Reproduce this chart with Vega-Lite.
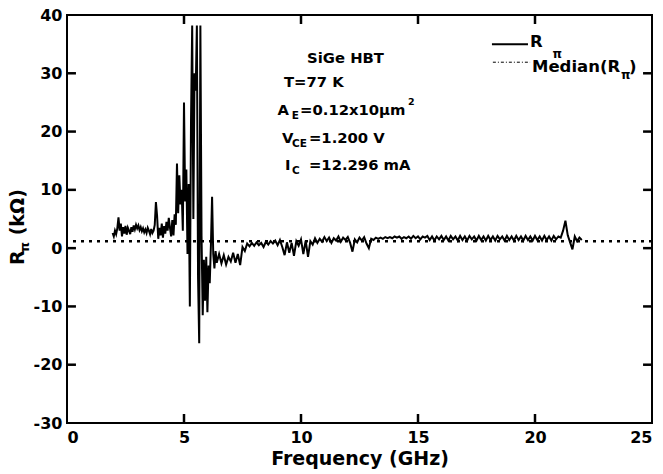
{
  "$schema": "https://vega.github.io/schema/vega-lite/v6.json",
  "width": 585,
  "height": 408,
  "autosize": {"type": "none"},
  "padding": {"left": 67, "top": 15, "right": 11, "bottom": 51},
  "background": "white",
  "config": {
    "view": {"stroke": "black", "strokeWidth": 2},
    "font": "DejaVu Sans",
    "axis": {
      "grid": false, "domain": false, "ticks": false,
      "labelFont": "DejaVu Sans", "labelFontWeight": "bold", "labelFontSize": 16, "labelColor": "black",
      "titleFont": "DejaVu Sans", "titleFontWeight": "bold", "titleFontSize": 19, "titleColor": "black"
    }
  },
  "datasets": {
    "trace": [
      {"f":1.95,"v":2.6},{"f":2.0,"v":2.0},{"f":2.05,"v":3.0},{"f":2.1,"v":2.4},{"f":2.15,"v":3.4},{"f":2.2,"v":5.3},{"f":2.25,"v":3.0},{"f":2.3,"v":4.2},{"f":2.35,"v":2.0},{"f":2.4,"v":3.6},{"f":2.45,"v":2.5},{"f":2.5,"v":3.8},{"f":2.55,"v":2.3},{"f":2.6,"v":3.5},{"f":2.65,"v":3.0},{"f":2.7,"v":2.4},{"f":2.75,"v":3.6},{"f":2.8,"v":2.8},{"f":2.85,"v":3.9},{"f":2.9,"v":3.2},{"f":2.95,"v":4.0},{"f":3.0,"v":3.4},{"f":3.05,"v":3.9},{"f":3.1,"v":3.1},{"f":3.15,"v":3.6},{"f":3.2,"v":2.9},{"f":3.25,"v":3.4},{"f":3.3,"v":2.7},{"f":3.35,"v":3.2},{"f":3.4,"v":2.6},{"f":3.45,"v":3.5},{"f":3.5,"v":3.0},{"f":3.55,"v":2.4},{"f":3.6,"v":3.3},{"f":3.65,"v":2.6},{"f":3.7,"v":3.0},{"f":3.75,"v":4.0},{"f":3.8,"v":7.9},{"f":3.85,"v":5.5},{"f":3.9,"v":1.6},{"f":3.95,"v":3.5},{"f":4.0,"v":2.2},{"f":4.05,"v":4.2},{"f":4.1,"v":1.8},{"f":4.15,"v":3.8},{"f":4.2,"v":2.5},{"f":4.25,"v":4.5},{"f":4.3,"v":3.0},{"f":4.35,"v":5.2},{"f":4.4,"v":3.5},{"f":4.45,"v":2.0},{"f":4.5,"v":4.8},{"f":4.55,"v":2.2},{"f":4.6,"v":5.8},{"f":4.65,"v":4.0},{"f":4.7,"v":14.5},{"f":4.75,"v":6.0},{"f":4.8,"v":12.5},{"f":4.85,"v":7.5},{"f":4.9,"v":10.0},{"f":4.95,"v":3.0},{"f":5.0,"v":25.0},{"f":5.05,"v":8.0},{"f":5.1,"v":13.5},{"f":5.15,"v":-1.0},{"f":5.2,"v":11.0},{"f":5.25,"v":-10.0},{"f":5.3,"v":22.0},{"f":5.35,"v":38.2},{"f":5.4,"v":5.0},{"f":5.45,"v":30.0},{"f":5.5,"v":27.0},{"f":5.55,"v":38.2},{"f":5.6,"v":-5.0},{"f":5.65,"v":-16.3},{"f":5.7,"v":38.2},{"f":5.75,"v":2.0},{"f":5.8,"v":-11.5},{"f":5.85,"v":-2.0},{"f":5.9,"v":-9.0},{"f":5.95,"v":-1.5},{"f":6.0,"v":-11.0},{"f":6.05,"v":-3.0},{"f":6.1,"v":-6.0},{"f":6.15,"v":0.5},{"f":6.2,"v":8.8},{"f":6.25,"v":-1.0},{"f":6.3,"v":-3.5},{"f":6.35,"v":-0.5},{"f":6.4,"v":-2.5},{"f":6.5,"v":-1.0},{"f":6.6,"v":-2.6},{"f":6.7,"v":-1.2},{"f":6.8,"v":-2.8},{"f":6.9,"v":-1.5},{"f":7.0,"v":-2.3},{"f":7.1,"v":-0.8},{"f":7.2,"v":-2.5},{"f":7.3,"v":-1.0},{"f":7.4,"v":-2.9},{"f":7.5,"v":0.2},{"f":7.6,"v":-0.5},{"f":7.7,"v":0.8},{"f":7.8,"v":0.3},{"f":7.9,"v":0.9},{"f":8.0,"v":0.4},{"f":8.1,"v":1.0},{"f":8.2,"v":0.5},{"f":8.3,"v":0.9},{"f":8.4,"v":0.2},{"f":8.5,"v":1.1},{"f":8.6,"v":0.6},{"f":8.7,"v":1.2},{"f":8.8,"v":0.8},{"f":8.9,"v":1.3},{"f":9.0,"v":0.5},{"f":9.1,"v":1.4},{"f":9.2,"v":0.2},{"f":9.3,"v":-1.2},{"f":9.4,"v":1.0},{"f":9.5,"v":-0.8},{"f":9.6,"v":0.9},{"f":9.7,"v":-1.3},{"f":9.8,"v":1.2},{"f":9.9,"v":0.4},{"f":10.0,"v":1.5},{"f":10.1,"v":-1.0},{"f":10.2,"v":1.3},{"f":10.3,"v":-1.5},{"f":10.4,"v":1.2},{"f":10.5,"v":0.6},{"f":10.6,"v":1.7},{"f":10.7,"v":0.9},{"f":10.8,"v":1.6},{"f":10.9,"v":1.1},{"f":11.0,"v":1.9},{"f":11.1,"v":1.2},{"f":11.2,"v":1.8},{"f":11.3,"v":0.9},{"f":11.4,"v":1.7},{"f":11.5,"v":1.3},{"f":11.6,"v":2.0},{"f":11.7,"v":1.1},{"f":11.8,"v":1.8},{"f":11.9,"v":1.4},{"f":12.0,"v":1.9},{"f":12.1,"v":0.9},{"f":12.2,"v":-0.6},{"f":12.3,"v":1.5},{"f":12.4,"v":1.0},{"f":12.5,"v":1.8},{"f":12.6,"v":1.3},{"f":12.7,"v":1.9},{"f":12.8,"v":0.8},{"f":12.9,"v":0.0},{"f":13.0,"v":1.6},{"f":13.1,"v":1.4},{"f":13.2,"v":1.8},{"f":13.3,"v":1.6},{"f":13.4,"v":1.8},{"f":13.5,"v":1.6},{"f":13.6,"v":1.9},{"f":13.7,"v":1.7},{"f":13.8,"v":1.9},{"f":13.9,"v":1.7},{"f":14.0,"v":2.0},{"f":14.1,"v":1.8},{"f":14.2,"v":2.0},{"f":14.3,"v":1.6},{"f":14.4,"v":1.9},{"f":14.5,"v":1.7},{"f":14.6,"v":2.0},{"f":14.7,"v":1.6},{"f":14.8,"v":2.1},{"f":14.9,"v":1.7},{"f":15.0,"v":2.0},{"f":15.1,"v":1.5},{"f":15.2,"v":2.0},{"f":15.3,"v":1.8},{"f":15.4,"v":2.1},{"f":15.5,"v":1.4},{"f":15.6,"v":2.0},{"f":15.7,"v":1.3},{"f":15.8,"v":2.0},{"f":15.9,"v":1.5},{"f":16.0,"v":2.1},{"f":16.1,"v":1.4},{"f":16.2,"v":2.0},{"f":16.3,"v":1.3},{"f":16.4,"v":2.1},{"f":16.5,"v":1.5},{"f":16.6,"v":2.0},{"f":16.7,"v":1.3},{"f":16.8,"v":2.1},{"f":16.9,"v":1.4},{"f":17.0,"v":2.0},{"f":17.1,"v":1.3},{"f":17.2,"v":2.1},{"f":17.3,"v":1.5},{"f":17.4,"v":2.0},{"f":17.5,"v":1.3},{"f":17.6,"v":2.1},{"f":17.7,"v":1.4},{"f":17.8,"v":2.0},{"f":17.9,"v":1.3},{"f":18.0,"v":2.1},{"f":18.1,"v":1.4},{"f":18.2,"v":2.0},{"f":18.3,"v":1.3},{"f":18.4,"v":2.1},{"f":18.5,"v":1.5},{"f":18.6,"v":2.0},{"f":18.7,"v":1.3},{"f":18.8,"v":2.1},{"f":18.9,"v":1.4},{"f":19.0,"v":2.0},{"f":19.1,"v":1.3},{"f":19.2,"v":2.1},{"f":19.3,"v":1.4},{"f":19.4,"v":2.0},{"f":19.5,"v":1.3},{"f":19.6,"v":2.1},{"f":19.7,"v":1.4},{"f":19.8,"v":2.0},{"f":19.9,"v":1.3},{"f":20.0,"v":2.1},{"f":20.1,"v":1.4},{"f":20.2,"v":2.0},{"f":20.3,"v":1.3},{"f":20.4,"v":2.1},{"f":20.5,"v":1.4},{"f":20.6,"v":2.0},{"f":20.7,"v":1.3},{"f":20.8,"v":2.1},{"f":20.9,"v":1.5},{"f":21.0,"v":2.0},{"f":21.1,"v":1.8},{"f":21.2,"v":3.0},{"f":21.3,"v":4.7},{"f":21.4,"v":2.2},{"f":21.5,"v":1.0},{"f":21.6,"v":-0.2},{"f":21.7,"v":2.0},{"f":21.8,"v":1.2},{"f":21.9,"v":1.8},{"f":22.0,"v":1.4}
    ],
    "median": [{"m": 1.2}],
    "xTickMarks": [
      {"f": 5, "v": -29.23}, {"f": 10, "v": -29.23}, {"f": 15, "v": -29.23}, {"f": 20, "v": -29.23},
      {"f": 5, "v": 39.23}, {"f": 10, "v": 39.23}, {"f": 15, "v": 39.23}, {"f": 20, "v": 39.23}
    ],
    "yTickMarks": [
      {"v": -20, "f": 0.19}, {"v": -10, "f": 0.19}, {"v": 0, "f": 0.19}, {"v": 10, "f": 0.19}, {"v": 20, "f": 0.19}, {"v": 30, "f": 0.19},
      {"v": -20, "f": 24.81}, {"v": -10, "f": 24.81}, {"v": 0, "f": 24.81}, {"v": 10, "f": 24.81}, {"v": 20, "f": 24.81}, {"v": 30, "f": 24.81}
    ],
    "legendSolid": [{"f1": 18.16, "f2": 19.7, "v": 35.0}],
    "legendDash": [{"f1": 18.2, "f2": 19.79, "v": 31.9}],
    "annMain": [
      {"f": 10.26, "v": 32.4, "t": "SiGe HBT"},
      {"f": 9.27, "v": 28.3, "t": "T=77 K"},
      {"f": 9.0, "v": 23.5, "t": "A"},
      {"f": 9.96, "v": 23.5, "t": "=0.12x10μm"},
      {"f": 9.19, "v": 18.7, "t": "V"},
      {"f": 10.34, "v": 18.7, "t": "=1.200 V"},
      {"f": 9.32, "v": 14.1, "t": "I"},
      {"f": 10.34, "v": 14.1, "t": "=12.296 mA"}
    ],
    "annSub": [
      {"f": 9.6, "v": 22.6, "t": "E"},
      {"f": 9.62, "v": 17.9, "t": "CE"},
      {"f": 9.62, "v": 13.3, "t": "C"}
    ],
    "annSup": [{"f": 14.57, "v": 25.0, "t": "2"}],
    "legText": [
      {"f": 19.79, "v": 35.3, "t": "R"},
      {"f": 19.87, "v": 31.05, "t": "Median(R"},
      {"f": 24.02, "v": 31.05, "t": ")"}
    ],
    "legSub": [
      {"f": 20.75, "v": 33.3, "t": "π"},
      {"f": 23.68, "v": 29.7, "t": "π"}
    ],
    "yTitle": [
      {"f": -2.09, "v": -2.9, "t": "R"},
      {"f": -2.09, "v": 2.2, "t": "(kΩ)"}
    ],
    "yTitleSub": [{"f": -1.79, "v": -0.7, "t": "π"}]
  },
  "layer": [
    {
      "data": {"name": "trace"},
      "mark": {"type": "line", "color": "black", "strokeWidth": 2, "strokeJoin": "miter"},
      "encoding": {
        "x": {"field": "f", "type": "quantitative", "scale": {"domain": [0, 25], "nice": false, "zero": false},
              "axis": {"values": [0, 5, 10, 15, 20, 25], "title": "Frequency (GHz)", "labelPadding": 6, "titlePadding": 4}},
        "y": {"field": "v", "type": "quantitative", "scale": {"domain": [-30, 40], "nice": false, "zero": false},
              "axis": {"values": [-30, -20, -10, 0, 10, 20, 30, 40], "title": null, "labelPadding": 5,
                       "labelExpr": "replace(datum.label, '−', '-')"}}
      }
    },
    {
      "data": {"name": "median"},
      "mark": {"type": "rule", "color": "black", "strokeWidth": 2.5, "strokeDash": [3, 5]},
      "encoding": {"y": {"field": "m", "type": "quantitative"}}
    },
    {
      "data": {"name": "xTickMarks"},
      "mark": {"type": "tick", "color": "black", "orient": "vertical", "size": 9, "thickness": 2.5, "opacity": 1},
      "encoding": {"x": {"field": "f", "type": "quantitative"}, "y": {"field": "v", "type": "quantitative"}}
    },
    {
      "data": {"name": "yTickMarks"},
      "mark": {"type": "tick", "color": "black", "orient": "horizontal", "size": 9, "thickness": 2.5, "opacity": 1},
      "encoding": {"x": {"field": "f", "type": "quantitative"}, "y": {"field": "v", "type": "quantitative"}}
    },
    {
      "data": {"name": "legendSolid"},
      "mark": {"type": "rule", "color": "black", "strokeWidth": 2},
      "encoding": {
        "x": {"field": "f1", "type": "quantitative"},
        "x2": {"field": "f2"},
        "y": {"field": "v", "type": "quantitative"}
      }
    },
    {
      "data": {"name": "legendDash"},
      "mark": {"type": "rule", "color": "black", "strokeWidth": 1, "strokeDash": [3, 2, 1, 2]},
      "encoding": {
        "x": {"field": "f1", "type": "quantitative"},
        "x2": {"field": "f2"},
        "y": {"field": "v", "type": "quantitative"}
      }
    },
    {
      "data": {"name": "annMain"},
      "mark": {"type": "text", "font": "DejaVu Sans", "fontWeight": "bold", "fontSize": 14.8, "align": "left", "baseline": "middle", "color": "black"},
      "encoding": {
        "x": {"field": "f", "type": "quantitative"},
        "y": {"field": "v", "type": "quantitative"},
        "text": {"field": "t"}
      }
    },
    {
      "data": {"name": "annSub"},
      "mark": {"type": "text", "font": "DejaVu Sans", "fontWeight": "bold", "fontSize": 10.5, "align": "left", "baseline": "middle", "color": "black"},
      "encoding": {
        "x": {"field": "f", "type": "quantitative"},
        "y": {"field": "v", "type": "quantitative"},
        "text": {"field": "t"}
      }
    },
    {
      "data": {"name": "annSup"},
      "mark": {"type": "text", "font": "DejaVu Sans", "fontWeight": "bold", "fontSize": 9.5, "align": "left", "baseline": "middle", "color": "black"},
      "encoding": {
        "x": {"field": "f", "type": "quantitative"},
        "y": {"field": "v", "type": "quantitative"},
        "text": {"field": "t"}
      }
    },
    {
      "data": {"name": "legText"},
      "mark": {"type": "text", "font": "DejaVu Sans", "fontWeight": "bold", "fontSize": 16.5, "align": "left", "baseline": "middle", "color": "black"},
      "encoding": {
        "x": {"field": "f", "type": "quantitative"},
        "y": {"field": "v", "type": "quantitative"},
        "text": {"field": "t"}
      }
    },
    {
      "data": {"name": "legSub"},
      "mark": {"type": "text", "font": "DejaVu Sans", "fontWeight": "bold", "fontSize": 12, "align": "left", "baseline": "middle", "color": "black"},
      "encoding": {
        "x": {"field": "f", "type": "quantitative"},
        "y": {"field": "v", "type": "quantitative"},
        "text": {"field": "t"}
      }
    },
    {
      "data": {"name": "yTitle"},
      "mark": {"type": "text", "font": "DejaVu Sans", "fontWeight": "bold", "fontSize": 19, "align": "left", "baseline": "middle", "angle": 270, "color": "black"},
      "encoding": {
        "x": {"field": "f", "type": "quantitative"},
        "y": {"field": "v", "type": "quantitative"},
        "text": {"field": "t"}
      }
    },
    {
      "data": {"name": "yTitleSub"},
      "mark": {"type": "text", "font": "DejaVu Sans", "fontWeight": "bold", "fontSize": 13, "align": "left", "baseline": "middle", "angle": 270, "color": "black"},
      "encoding": {
        "x": {"field": "f", "type": "quantitative"},
        "y": {"field": "v", "type": "quantitative"},
        "text": {"field": "t"}
      }
    }
  ]
}
